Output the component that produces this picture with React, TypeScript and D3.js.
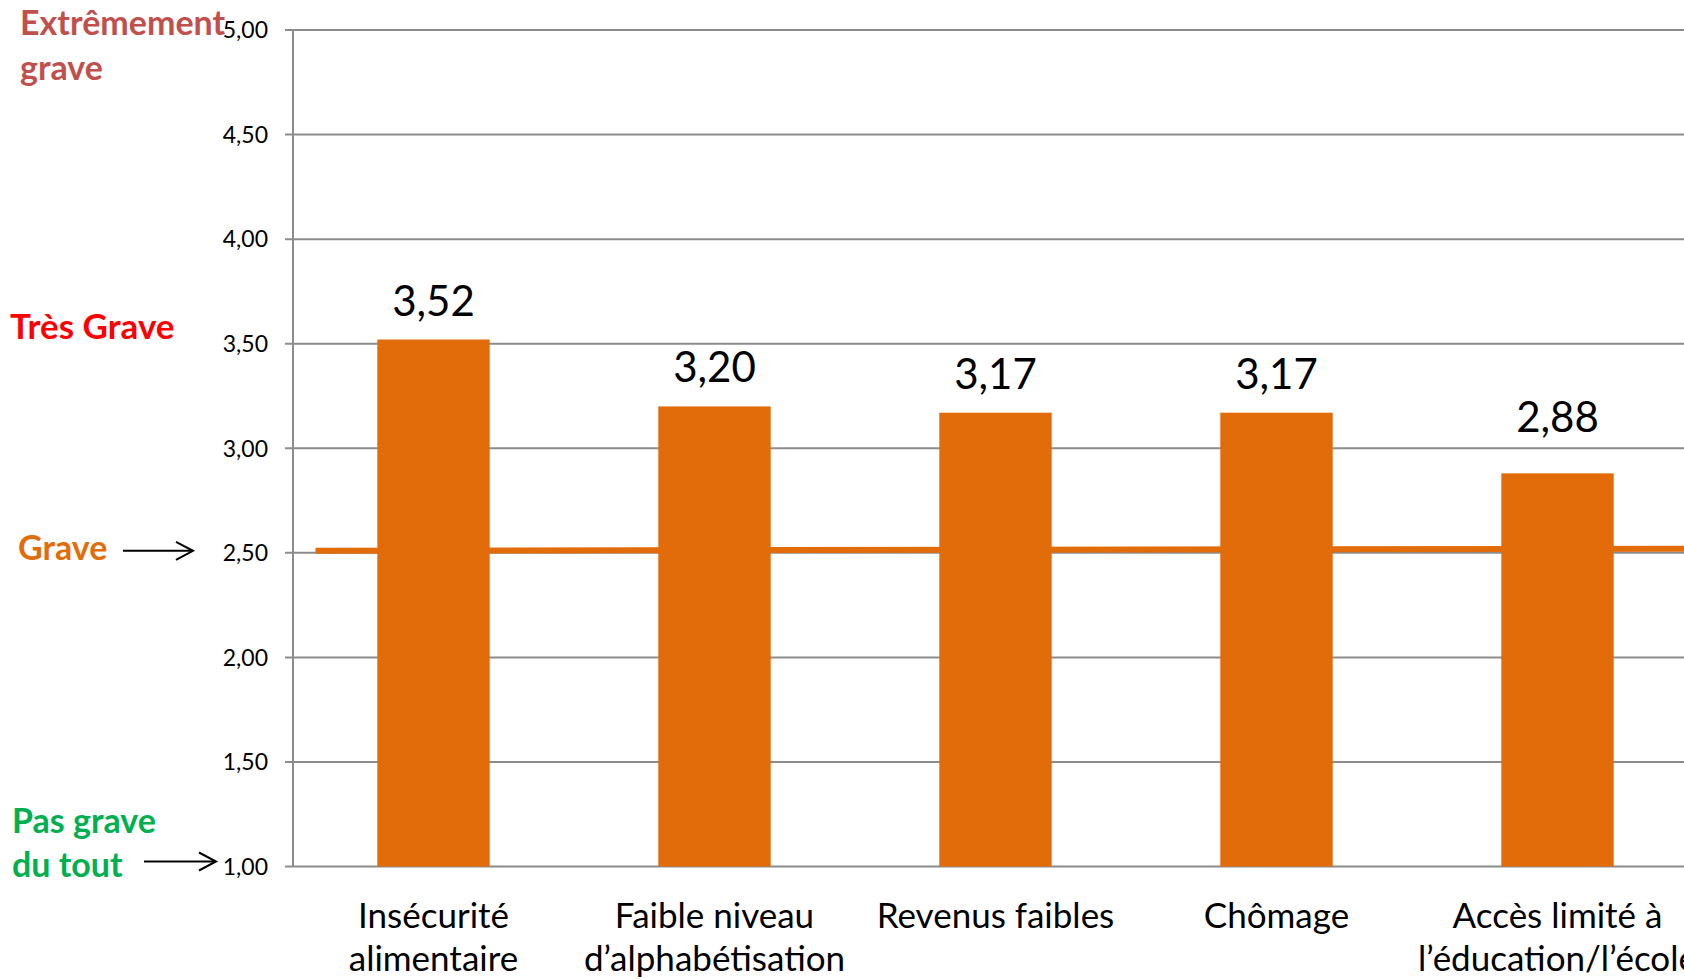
import React, { useEffect } from "react";
import * as d3 from "d3";

const categories: string[] = [
  "Insécurité\nalimentaire",
  "Faible niveau\nd’alphabétisation",
  "Revenus faibles",
  "Chômage",
  "Accès limité à\nl’éducation/l’école",
];
const values: number[] = [3.52, 3.2, 3.17, 3.17, 2.88];
const yTicks: number[] = [1, 1.5, 2, 2.5, 3, 3.5, 4, 4.5, 5];
const graveLine: number[] = [2.51, 2.52];

// extra upward shift (px) of individual value labels, as placed in the original
const labelLift: number[] = [0, 0, 0, 0, 17];

const W = 1684;
const H = 979;
const FONT = "Lato, 'Open Sans', sans-serif";
const ORANGE = "#E36C0A";
const GRID = "#8C8C8C";

const fmt = (v: number) => d3.format(".2f")(v).replace(".", ",");

export default function App() {
  useEffect(() => {
    document.body.style.margin = "0";
    document.body.style.overflow = "hidden";
  }, []);

  const x0 = 293;
  const step = 281;
  const xb = d3
    .scaleBand<string>()
    .domain(categories)
    .range([x0, x0 + step * categories.length])
    .paddingInner(0.6)
    .paddingOuter(0.3);
  const y = d3.scaleLinear().domain([1, 5]).range([866.5, 30]);
  const xRight = x0 + step * categories.length;

  const lineStart = x0 + xb.step() * 0.08;
  const grave = d3
    .line<number>()
    .x((_, i) => (i === 0 ? lineStart : xRight))
    .y((d) => y(d));

  const arrow = (x1: number, x2: number, yy: number) => (
    <g stroke="#000" strokeWidth={2} fill="none">
      <line x1={x1} x2={x2} y1={yy} y2={yy} />
      <polyline points={`${x2 - 17},${yy - 9} ${x2},${yy} ${x2 - 17},${yy + 9}`} />
    </g>
  );

  return (
    <svg
      width={W}
      height={H}
      style={{ position: "absolute", left: 0, top: 0, background: "#fff" }}
      fontFamily={FONT}
    >
      {yTicks.map((t) => (
        <g key={t}>
          <line x1={285} x2={W} y1={y(t)} y2={y(t)} stroke={GRID} strokeWidth={2} />
          <text x={268} y={y(t)} dy="0.36em" textAnchor="end" fontSize={23} fill="#000">
            {fmt(t)}
          </text>
        </g>
      ))}
      <line x1={x0} x2={x0} y1={y(5)} y2={y(1)} stroke={GRID} strokeWidth={2} />

      <path d={grave(graveLine) || ""} stroke={ORANGE} strokeWidth={6} fill="none" />

      {values.map((v, i) => {
        const c = categories[i];
        const bx = xb(c) || 0;
        return (
          <g key={i}>
            <rect x={bx} y={y(v)} width={xb.bandwidth()} height={y(1) - y(v)} fill={ORANGE} />
            <text
              x={bx + xb.bandwidth() / 2}
              y={y(v) - 24 - labelLift[i]}
              textAnchor="middle"
              fontSize={42}
              fill="#000"
            >
              {fmt(v)}
            </text>
          </g>
        );
      })}

      {categories.map((c, i) => {
        const lines = c.split("\n");
        const cx = (xb(c) || 0) + xb.bandwidth() / 2;
        return (
          <text key={i} x={cx} textAnchor="middle" fontSize={35} fill="#000">
            {lines.map((l, j) => (
              <tspan key={j} x={cx} y={928 + j * 43}>
                {l}
              </tspan>
            ))}
          </text>
        );
      })}

      <g fontWeight="bold" fontSize={34}>
        <text fill="#C0504D">
          <tspan x={20} y={35}>Extrêmement</tspan>
          <tspan x={20} y={80}>grave</tspan>
        </text>
        <text fill="#FF0000" x={10} y={339} fontSize={35}>Très Grave</text>
        <text fill={ORANGE} x={18} y={560}>Grave</text>
        <text fill="#00B050">
          <tspan x={12} y={833}>Pas grave</tspan>
          <tspan x={12} y={877}>du tout</tspan>
        </text>
      </g>
      {arrow(123, 193, y(2.5) - 2)}
      {arrow(144, 216, y(1) - 5)}
    </svg>
  );
}
